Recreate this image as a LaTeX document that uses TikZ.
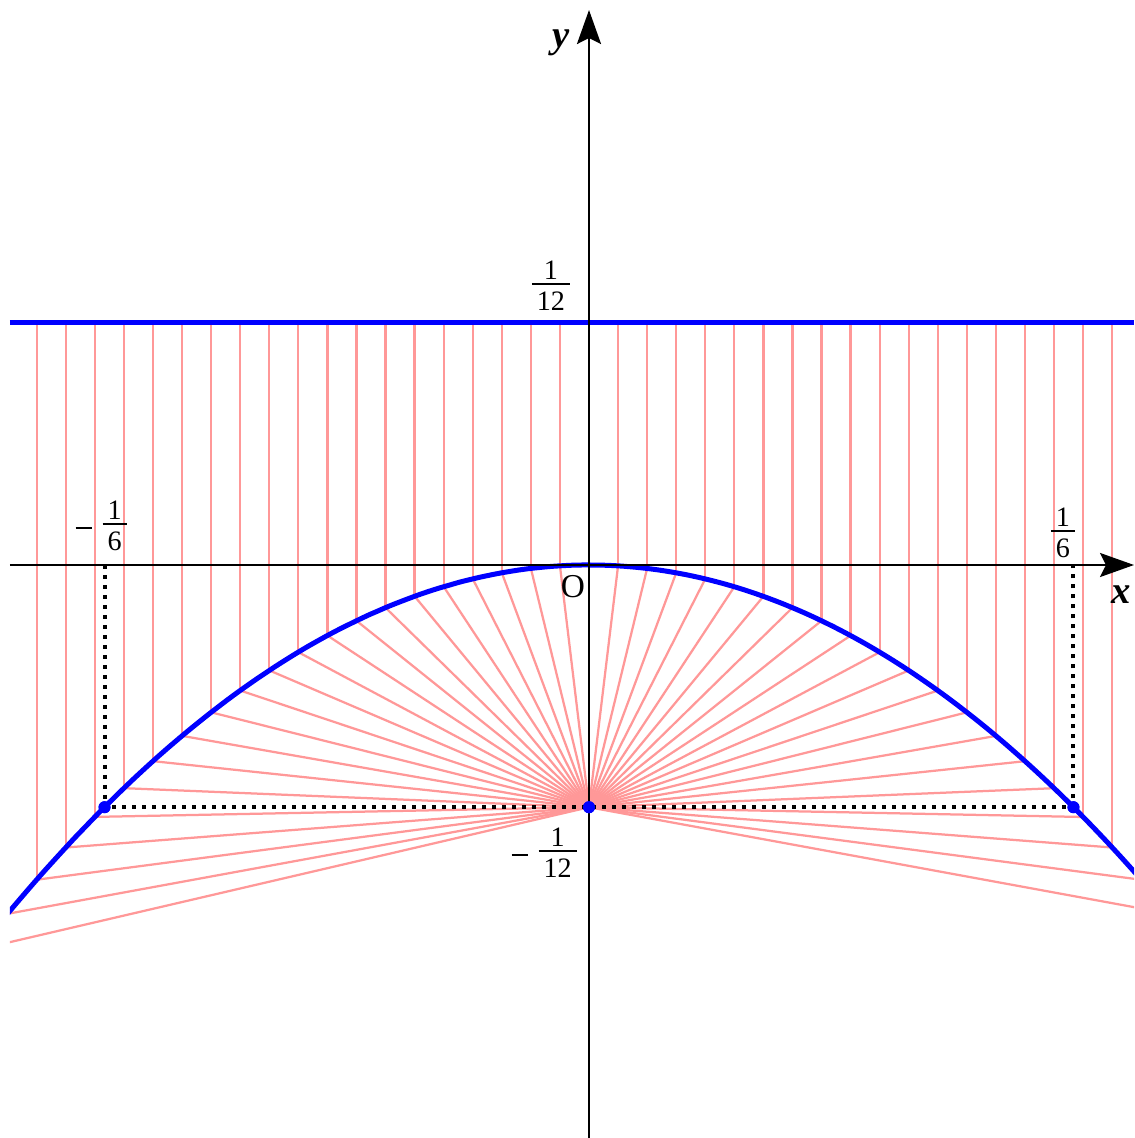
\documentclass[tikz,border=0pt]{standalone}
\usepackage{amsmath}
\usepackage{fontspec}
\setmainfont{Liberation Serif}
\usetikzlibrary{arrows.meta}
\definecolor{raycol}{RGB}{255,152,152}
\definecolor{curvecol}{RGB}{0,0,255}
\newcommand{\myfr}[2]{\ensuremath{\vcenter{\offinterlineskip\halign{\hskip0.1cm\hfil##\hfil\hskip0.1cm\cr\hbox{#1}\cr\noalign{\kern2pt\hrule height0.9pt\kern4pt}\hbox{#2}\cr}}}}
\newcommand{\mymin}{\rule[2.9pt]{0.32cm}{1pt}\hspace{0.22cm}}
\tikzset{
  ray/.style={draw=raycol, line width=0.045cm},
  blueline/.style={draw=curvecol, line width=0.1cm},
  axisline/.style={draw=black, line width=0.05cm, -{Stealth[length=0.68cm,width=0.48cm,inset=0.12cm]}},
  dotline/.style={draw=black, line width=0.08cm, dash pattern=on 0.08cm off 0.12cm},
  fdot/.style={circle, fill=curvecol, inner sep=0pt, minimum size=0.24cm},
  fraclabel/.style={inner sep=0pt, font=\fontsize{16}{19}\selectfont},
  olabel/.style={inner sep=0pt, font=\fontsize{19}{23}\selectfont},
  axlabel/.style={inner sep=0pt, font=\fontsize{22}{26}\selectfont\bfseries\itshape},
}
\begin{document}
\begin{tikzpicture}[x=58.14cm,y=58.14cm]
\useasboundingbox (-0.20262,-0.19711) rectangle (0.18748,0.19436);
\coordinate (F) at (0,-1/12);
\begin{scope}
  \clip (-0.1992,-0.19711) rectangle (0.18748,0.19436);
  \foreach \k in {-21,...,-1,1,2,...,20} {
    \pgfmathsetmacro\xx{\k/100}
    \pgfmathsetmacro\yy{-3*\xx*\xx}
    \coordinate (P) at (\xx,\yy);
    \coordinate (D) at (\xx,1/12);
    \draw[ray] (F) -- (P);
    \draw[ray] (P) -- (D);
  }
  \draw[blueline] plot[domain=-0.215:0.2, samples=120, smooth] (\x,{-3*\x*\x});
  \draw[blueline] (-0.1992,1/12) -- (0.18748,1/12);
\end{scope}
\coordinate (xl) at (-0.1992,0);
\coordinate (xr) at (0.18748,0);
\coordinate (yb) at (0,-0.19711);
\coordinate (yt) at (0,0.19092);
\draw[axisline] (xl) -- (xr);
\draw[axisline] (yb) -- (yt);
\coordinate (A) at (-1/6,0);
\coordinate (B) at (1/6,0);
\node[fdot] (pl) at (-1/6,-1/12) {};
\node[fdot] (pf) at (F) {};
\node[fdot] (pr) at (1/6,-1/12) {};
\draw[dotline] (A) -- (pl.center) -- (pr.center) -- (B);
\node[fdot] at (pl) {};
\node[fdot] at (pf) {};
\node[fdot] at (pr) {};
\node[fraclabel] (ltop) at (-0.01307,0.09598) {\myfr{1}{12}};
\node[fraclabel, anchor=east] (lbot) at (-0.00413,-0.09907) {\mymin\myfr{1}{12}};
\node[fraclabel, anchor=east] (lleft) at (-0.15893,0.01342) {\mymin\myfr{1}{6}};
\node[fraclabel] (lright) at (0.16306,0.01101) {\myfr{1}{6}};
\node[olabel, anchor=base] (lo) at (-0.0055,-0.01101) {O};
\node[axlabel, anchor=base] (lx) at (0.18301,-0.01307) {x};
\node[axlabel, anchor=base] (ly) at (-0.00963,0.17819) {y};
\end{tikzpicture}
\end{document}
